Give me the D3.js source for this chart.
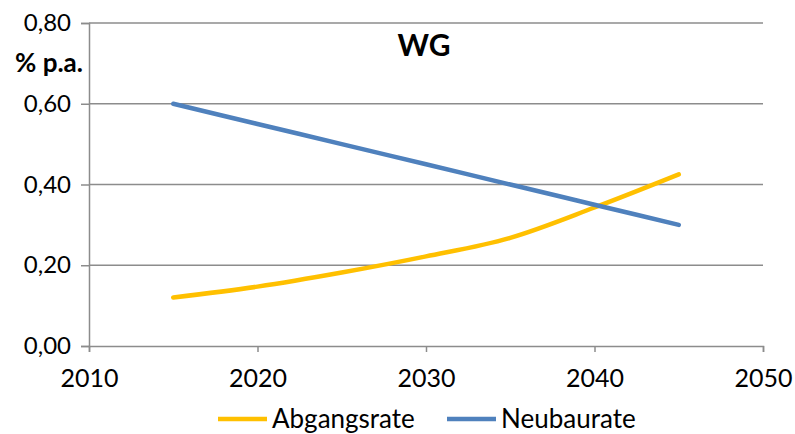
<!DOCTYPE html>
<html>
<head>
<meta charset="utf-8">
<script src="https://cdn.jsdelivr.net/npm/d3@7"></script>
<style>
body { margin: 0; background: #fff; }
svg text { font-family: Lato, "Open Sans", sans-serif; fill: #000; }
</style>
</head>
<body>
<svg width="795" height="434"></svg>
<script>
var years = [2015, 2020, 2025, 2030, 2035, 2040, 2045];
var abgangsrate = [0.12, 0.147, 0.182, 0.222, 0.268, 0.343, 0.425];
var neubaurate = [0.60, 0.55, 0.50, 0.45, 0.40, 0.35, 0.30];
var xTicks = [2010, 2020, 2030, 2040, 2050];
var yTicks = [0, 0.2, 0.4, 0.6, 0.8];

var series = [
	{name: "Abgangsrate", values: abgangsrate, color: "#FFC000"},
	{name: "Neubaurate", values: neubaurate, color: "#4F81BD"}
];

var svg = d3.select("svg");

var x = d3.scaleLinear().domain([2010, 2050]).range([89, 763]);
var y = d3.scaleLinear().domain([0, 0.8]).range([346, 23]);
var fmt = function(d) { return d3.format(".2f")(d).replace(".", ","); };

// gridlines
svg.append("g")
	.selectAll("line")
	.data(yTicks.slice(1))
	.enter().append("line")
	.attr("x1", x(2010)).attr("x2", x(2050))
	.attr("y1", function(d) { return y(d); })
	.attr("y2", function(d) { return y(d); })
	.attr("stroke", "#8c8c8c")
	.attr("stroke-width", 1.5);

var yAxis = svg.append("g")
	.attr("transform", "translate(" + x(2010) + ",0)")
	.call(d3.axisLeft(y).tickValues(yTicks).tickFormat(fmt).tickSize(8).tickPadding(10));

var xAxis = svg.append("g")
	.attr("transform", "translate(0," + y(0) + ")")
	.call(d3.axisBottom(x).tickValues(xTicks).tickFormat(d3.format("d")).tickSize(6).tickPadding(17));

[yAxis, xAxis].forEach(function(a) {
	a.select(".domain").attr("stroke", "#8c8c8c").attr("stroke-width", 1.5);
	a.selectAll(".tick line").attr("stroke", "#8c8c8c").attr("stroke-width", 1.5);
});
yAxis.selectAll("text").style("font-size", "24px");
xAxis.selectAll("text").style("font-size", "25px");

var line = d3.line()
	.x(function(d, i) { return x(years[i]); })
	.y(function(d) { return y(d); })
	.curve(d3.curveMonotoneX);

svg.append("g")
	.selectAll("path")
	.data(series)
	.enter().append("path")
	.attr("d", function(d) { return line(d.values); })
	.attr("fill", "none")
	.attr("stroke", function(d) { return d.color; })
	.attr("stroke-width", 4.5)
	.attr("stroke-linecap", "round");

svg.append("text")
	.attr("x", 424).attr("y", 56)
	.attr("text-anchor", "middle")
	.attr("font-weight", "bold")
	.style("font-size", "30px")
	.text("WG");

svg.append("text")
	.attr("x", 15).attr("y", 72)
	.attr("font-weight", "bold")
	.style("font-size", "26px")
	.text("% p.a.");

// legend
var legX = [218, 447];
var legend = svg.append("g")
	.selectAll("g")
	.data(series)
	.enter().append("g")
	.attr("transform", function(d, i) { return "translate(" + legX[i] + ",419)"; });

legend.append("line")
	.attr("x1", 0).attr("x2", 49)
	.attr("stroke", function(d) { return d.color; })
	.attr("stroke-width", 4.5);

legend.append("text")
	.attr("x", 54).attr("y", 9)
	.style("font-size", "26px")
	.text(function(d) { return d.name; });
</script>
</body>
</html>
